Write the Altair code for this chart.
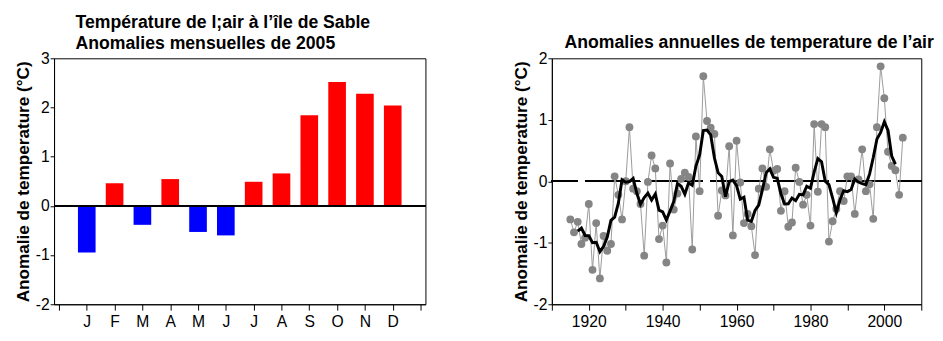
import altair as alt
import pandas as pd

# ---------------- data ----------------
months = ["J", "F", "M", "A", "M", "J", "J", "A", "S", "O", "N", "D"]
month_pos = list(range(1, 13))
monthly_anom = [-0.95, 0.46, -0.385, 0.545, -0.53, -0.60, 0.49, 0.66, 1.84, 2.52, 2.28, 2.04]

years = list(range(1915, 2006))
annual_anom = [
    -0.62, -0.83, -0.66, -1.02, -0.92, -0.37, -1.44, -0.68, -1.58, -0.89,   # 1915-1924
    -1.13, -1.02, 0.08, -0.22, -0.62, 0.00, 0.88, -0.12, -0.16, -0.37,     # 1925-1934
    -1.21, -0.01, 0.42, 0.21, -0.94, -0.72, -1.32, 0.29, -0.46, -0.20,     # 1935-1944
    0.04, 0.14, 0.07, -1.11, 0.73, -0.16, 1.71, 0.98, 0.87, 0.77,          # 1945-1954
    -0.56, -0.15, -0.23, 0.57, -0.88, 0.66, -0.02, -0.68, -0.53, -0.73,    # 1955-1964
    -1.20, -0.12, 0.21, -0.09, 0.52, 0.17, 0.20, -0.48, -0.16, -0.74,      # 1965-1974
    -0.67, 0.22, -0.01, -0.38, -0.22, -0.72, 0.93, -0.17, 0.93, 0.88,      # 1975-1984
    -0.98, -0.65, -0.45, -0.16, -0.32, 0.08, 0.08, -0.53, 0.03, 0.52,      # 1985-1994
    -0.16, -0.05, -0.61, 0.88, 1.87, 1.35, 0.48, 0.25, 0.18, -0.22,        # 1995-2004
    0.71,                                                                  # 2005
]

left_title = ["Température de l;air à l’île de Sable", " Anomalies mensuelles de 2005"]
right_title = "Anomalies annuelles de temperature de l’air"
y_title = "Anomalie de temperature (°C)"

FONT = "Liberation Sans"

# ---------------- left panel ----------------
mdf = pd.DataFrame({"pos": month_pos, "month": months, "anom": monthly_anom})
mdf["sign"] = ["pos" if v >= 0 else "neg" for v in monthly_anom]

label_expr = "[" + ",".join(['""'] + ['"%s"' % m for m in months] + ['""']) + "][datum.value]"

xl = alt.X(
    "pos:Q",
    scale=alt.Scale(domain=[0, 13], nice=False, zero=False),
    axis=alt.Axis(values=list(range(0, 14)), labelExpr=label_expr, title=None,
                  tickSize=6, labelPadding=4),
)
yl = alt.Y(
    "anom:Q",
    scale=alt.Scale(domain=[-2, 3], nice=False),
    axis=alt.Axis(values=[-2, -1, 0, 1, 2, 3], labelExpr="datum.value", title=y_title),
)

bars = alt.Chart(mdf).mark_bar(size=18).encode(
    x=xl,
    y=yl,
    color=alt.Color("sign:N", scale=alt.Scale(domain=["pos", "neg"], range=["#ff0000", "#0000ff"]),
                    legend=None),
)
zero_left = alt.Chart(mdf).mark_rule(color="black", strokeWidth=1).encode(y=alt.datum(0))

left = alt.layer(bars, zero_left).properties(
    width=379, height=251,
    title=alt.TitleParams(text=left_title, anchor="start", frame="group", dx=22, fontSize=18,
                          font=FONT, fontWeight="bold", lineHeight=21, offset=-2, color="black"),
)

# ---------------- right panel ----------------
adf = pd.DataFrame({"year": years, "anom": annual_anom})
base = alt.Chart(adf)

xr = alt.X(
    "year:Q",
    scale=alt.Scale(domain=[1910, 2010], nice=False, zero=False),
    axis=alt.Axis(values=list(range(1910, 2011, 10)), format="d", title=None,
                  labelExpr="(datum.value % 20 == 0 && datum.value > 1910 && datum.value < 2010) ? datum.label : ''",
                  tickSize=6, labelPadding=4),
)
yr = alt.Y(
    "anom:Q",
    scale=alt.Scale(domain=[-2, 2], nice=False),
    axis=alt.Axis(values=[-2, -1, 0, 1, 2], labelExpr="datum.value", title=y_title),
)

zero_right = base.mark_rule(color="black", strokeWidth=1.2, strokeDash=[56, 8],
                            strokeDashOffset=33).encode(y=alt.datum(0))
thin = base.mark_line(color="#9a9a9a", strokeWidth=1).encode(x=xr, y=yr)
pts = base.mark_circle(color="#858585", opacity=1, size=64).encode(x=xr, y=yr)
smooth = base.transform_window(
    ma="mean(anom)", n="count()", frame=[-2, 2], sort=[alt.SortField("year")]
).transform_filter("datum.n == 5").mark_line(color="black", strokeWidth=3).encode(
    x=xr, y=alt.Y("ma:Q", scale=alt.Scale(domain=[-2, 2], nice=False))
)

right = alt.layer(zero_right, thin, pts, smooth).properties(
    width=377, height=251,
    title=alt.TitleParams(text=right_title, anchor="start", frame="group", dx=13, fontSize=18,
                          font=FONT, fontWeight="bold", offset=-1, color="black"),
)

chart = alt.hconcat(left, right, spacing=129, bounds="flush").properties(
    padding={"left": 6, "top": 2, "right": 0, "bottom": 0},
    background="white",
).configure_axis(
    grid=False,
    domainColor="black",
    tickColor="black",
    labelColor="black",
    titleColor="black",
    labelFont=FONT,
    labelFontSize=16,
    titleFont=FONT,
    titleFontSize=17.5,
    titleFontWeight="bold",
).configure_axisY(
    tickSize=4, labelPadding=1, titlePadding=3,
).configure_view(
    stroke="black", strokeWidth=1,
)

chart.save("out.html", embed_options={"renderer": "svg", "actions": False})
